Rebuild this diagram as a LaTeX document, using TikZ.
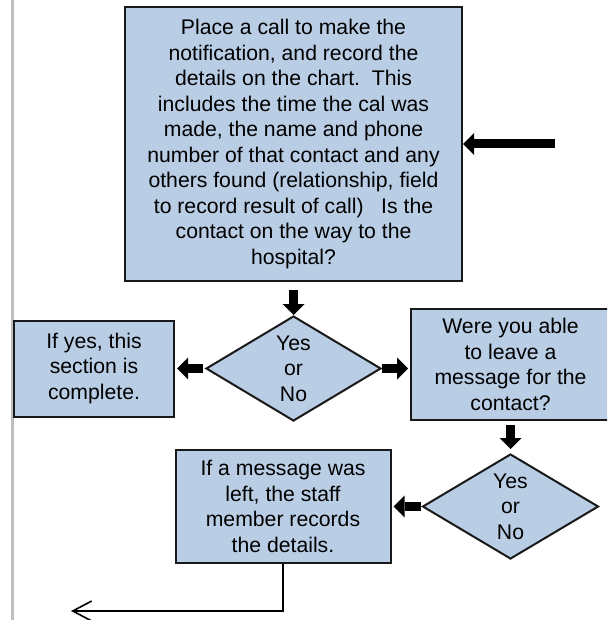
\documentclass[tikz,border=0pt]{standalone}
\usepackage{fontspec}
\setmainfont{Liberation Sans}
\usetikzlibrary{shapes.geometric, arrows.meta, positioning}
\definecolor{boxblue}{HTML}{B9CDE5}

\begin{document}
\begin{tikzpicture}[x=1pt, y=-1pt, font={\fontsize{21.2}{25.5}\selectfont},
    box/.style={draw=black!90, line width=2pt, fill=boxblue, align=center, inner sep=2pt},
    decide/.style={diamond, draw=black!90, line width=2pt, fill=boxblue, aspect=1.67, align=center, inner sep=0pt},
    blk/.style={line width=9pt, -{Triangle[width=22pt, length=11pt, line width=0pt]}},
    exitline/.style={line width=1.6pt, -{Straight Barb[length=19pt, width=20pt]}}]
    \useasboundingbox (0,0) rectangle (607,620);
    \clip (0,0) rectangle (607,620);
    \draw[gray!50, line width=3pt] (12,0) -- (12,620);
    \node[box, minimum width=337pt, minimum height=274pt] (main) at (293.5,144)
        {Place a call to make the\\notification, and record the\\details on the chart.\ \ This\\includes the time the cal was\\made, the name and phone\\number of that contact and any\\others found (relationship, field\\to record result of call)\ \ \ Is the\\contact on the way to the\\hospital?};
    \node[decide, minimum width=175pt, minimum height=105pt, below=33pt of main] (dec1) {Yes\\or\\No};
    \node[box, minimum width=160pt, minimum height=96pt, left=30pt of dec1] (done) {If yes, this\\section is\\complete.};
    \node[box, minimum width=199pt, minimum height=111pt, right=28pt of dec1, yshift=4pt] (ask) {Were you able\\to leave a\\message for the\\contact?};
    \node[decide, minimum width=176pt, minimum height=105pt, below=32pt of ask] (dec2) {Yes\\or\\No};
    \node[box, minimum width=215pt, minimum height=113pt, left=30pt of dec2] (rec) {If a message was\\left, the staff\\member records\\the details.};
    \coordinate (feed) at (555,144);
    \coordinate (exit) at (71,611);
    \draw[blk] (feed) -- (main.east);
    \draw[blk, shorten <=8pt] (main.south -| dec1.north) -- (dec1.north);
    \draw[blk, shorten <=2pt, shorten >=2pt] (dec1.west) -- (done.east);
    \draw[blk, shorten >=2pt] (dec1.east) -- (dec1.east -| ask.west);
    \draw[blk, shorten <=4pt, shorten >=4pt] (ask.south) -- (dec2.north);
    \draw[blk, shorten <=1pt, shorten >=2pt] (dec2.west) -- (rec.east);
    \draw[exitline] (rec.south) |- (exit);
\end{tikzpicture}
\end{document}
